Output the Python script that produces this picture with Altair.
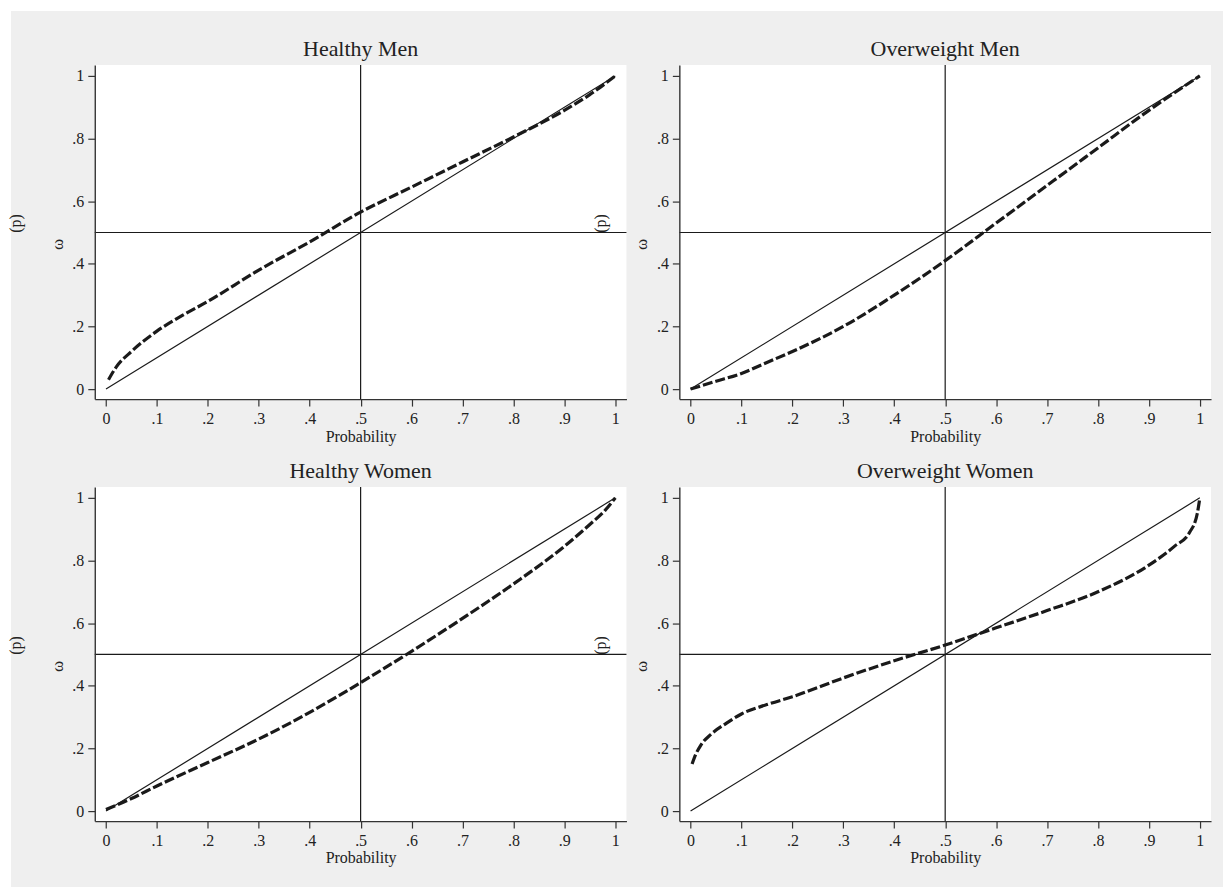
import altair as alt
import pandas as pd

# Probability weighting functions, omega(p), by group
hm_x = [0.005, 0.02, 0.05, 0.1, 0.15, 0.2, 0.3, 0.4, 0.5, 0.6, 0.7, 0.8, 0.9, 0.95, 1.0]
hm_y = [0.03, 0.07, 0.12, 0.185, 0.235, 0.28, 0.38, 0.47, 0.565, 0.645, 0.725, 0.805, 0.89, 0.94, 1.0]

ow_x = [0.0, 0.05, 0.1, 0.15, 0.2, 0.3, 0.4, 0.5, 0.6, 0.7, 0.8, 0.9, 1.0]
ow_y = [0.0, 0.025, 0.05, 0.085, 0.12, 0.2, 0.3, 0.41, 0.53, 0.65, 0.77, 0.89, 1.0]

hw_x = [0.0, 0.05, 0.1, 0.2, 0.3, 0.4, 0.5, 0.6, 0.7, 0.8, 0.9, 0.95, 0.98, 1.0]
hw_y = [0.005, 0.04, 0.08, 0.155, 0.23, 0.315, 0.41, 0.51, 0.615, 0.725, 0.845, 0.915, 0.96, 1.0]

owm_x = [0.003, 0.01, 0.02, 0.04, 0.07, 0.1, 0.15, 0.2, 0.3, 0.4, 0.5, 0.6, 0.7, 0.8,
         0.9, 0.95, 0.98, 0.995, 1.0]
owm_y = [0.15, 0.18, 0.21, 0.245, 0.28, 0.31, 0.34, 0.365, 0.425, 0.48, 0.53, 0.585, 0.64,
         0.7, 0.785, 0.845, 0.89, 0.95, 1.0]

panel_titles = ["Healthy Men", "Overweight Men", "Healthy Women", "Overweight Women"]
curves = [(hm_x, hm_y), (ow_x, ow_y), (hw_x, hw_y), (owm_x, owm_y)]

x_ticks = [0, 0.1, 0.2, 0.3, 0.4, 0.5, 0.6, 0.7, 0.8, 0.9, 1]
y_ticks = [0, 0.2, 0.4, 0.6, 0.8, 1]
diag_x = [0, 1]
diag_y = [0, 1]

SERIF = "Liberation Serif"
W, H = 533, 335
INK = "#1a1a1a"
TXT = "#222"
STATA_LABEL = ("datum.value == 0 ? '0' : datum.value == 1 ? '1' : "
               "replace(format(datum.value, '.1f'), '0.', '.')")


def panel(title, xs, ys, first=False):
    one = pd.DataFrame({"k": [0]})
    xenc = alt.X("x:Q",
                 scale=alt.Scale(domain=[-0.022, 1.022], nice=False, zero=False),
                 axis=alt.Axis(values=x_ticks, labelExpr=STATA_LABEL, title="Probability", zindex=2))
    yenc = alt.Y("y:Q",
                 scale=alt.Scale(domain=[-0.032, 1.035], nice=False, zero=False),
                 axis=alt.Axis(values=y_ticks, labelExpr=STATA_LABEL, title=None, zindex=2))

    layers = []
    if first:
        # figure backdrop, drawn once underneath everything else
        layers.append(alt.Chart(one).mark_rect(color="#efefef").encode(
            x=alt.value(-84), x2=alt.value(1131), y=alt.value(-54), y2=alt.value(824)))
    layers.append(alt.Chart(one).mark_rect(color="white").encode(
        x=alt.value(0), x2=alt.value(W), y=alt.value(0), y2=alt.value(H)))

    ref = pd.DataFrame({"x": [0.5], "y": [0.5]})
    layers.append(alt.Chart(ref).mark_rule(color=INK, strokeWidth=1.2).encode(y=yenc))
    layers.append(alt.Chart(ref).mark_rule(color=INK, strokeWidth=1.2).encode(x=xenc))

    diag = pd.DataFrame({"x": diag_x, "y": diag_y})
    layers.append(alt.Chart(diag).mark_line(color=INK, strokeWidth=1.2).encode(x=xenc, y=yenc))

    curve = pd.DataFrame({"x": xs, "y": ys})
    layers.append(alt.Chart(curve).mark_line(
        color=INK, strokeWidth=3.2, strokeDash=[10, 3], interpolate="monotone"
    ).encode(x=xenc, y=yenc))

    layers.append(alt.Chart(one).mark_text(
        text=title, font=SERIF, fontSize=22, color=TXT, align="center", baseline="alphabetic"
    ).encode(x=alt.value(W / 2), y=alt.value(-9)))
    layers.append(alt.Chart(one).mark_text(
        text="ω", font=SERIF, fontSize=17, color=TXT, angle=270, align="center", baseline="middle"
    ).encode(x=alt.value(-37), y=alt.value(180)))
    layers.append(alt.Chart(one).mark_text(
        text="(p)", font=SERIF, fontSize=16, color=TXT, angle=270, align="center", baseline="middle"
    ).encode(x=alt.value(-79), y=alt.value(159)))

    return alt.layer(*layers).properties(width=W, height=H)


panels = [panel(t, cx, cy, first=(i == 0)) for i, (t, (cx, cy)) in enumerate(zip(panel_titles, curves))]

chart = alt.concat(
    *panels, columns=2, spacing=alt.RowColnumber(row=88, column=53), bounds="flush"
).properties(
    padding={"left": 8, "top": 10, "right": 0, "bottom": 0}
).configure(
    background="white"
).configure_view(
    strokeWidth=0
).configure_axis(
    grid=False,
    domainColor="#333", domainWidth=1.4,
    tickColor="#333", tickWidth=1.2, tickSize=7,
    labelFont=SERIF, labelFontSize=16, labelColor=TXT, labelPadding=4,
    titleFont=SERIF, titleFontSize=16, titleFontWeight="normal", titleColor=TXT, titlePadding=2,
)

chart.save("out.html", embed_options={"renderer": "svg", "actions": False})
